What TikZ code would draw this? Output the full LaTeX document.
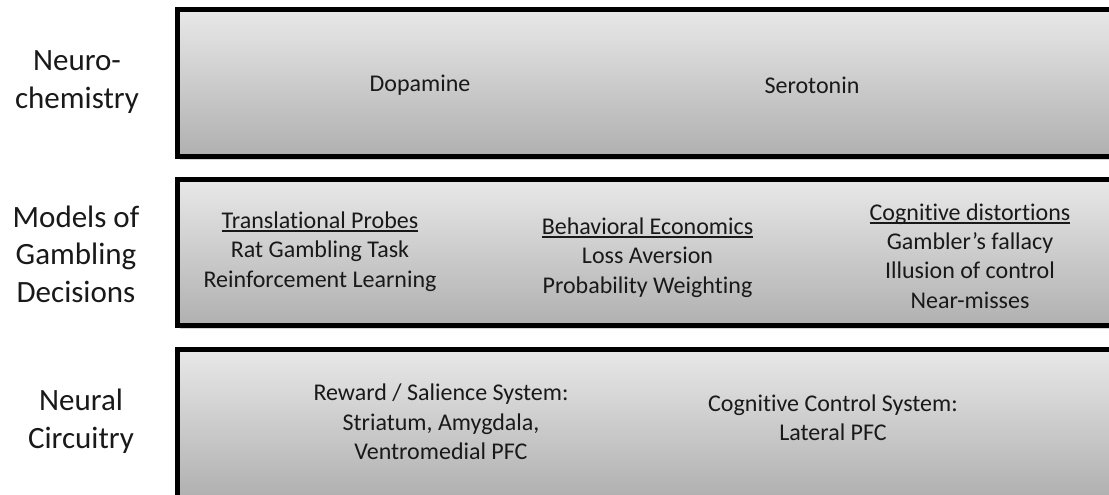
\documentclass[tikz,border=0pt]{standalone}
\usepackage{fontspec}
\setmainfont{Carlito}[Ligatures=NoCommon]
\usetikzlibrary{shadows}
\newcommand{\headline}[1]{\setbox0\hbox{#1}\rlap{\rule[-3.6pt]{\wd0}{1.7pt}}\box0}
\tikzset{
  layerbox/.style={draw=black, line width=5pt, top color=black!9, bottom color=black!31,
    drop shadow={shadow xshift=2pt, shadow yshift=-3.5pt, opacity=0.35},
    minimum width=952.5pt, inner sep=0pt, outer sep=0pt},
  layerlabel/.style={align=center, text=black!90, font=\fontsize{31}{37.5}\selectfont},
  layertext/.style={align=center, text=black!90, font=\fontsize{24}{29.3}\selectfont},
}
\begin{document}
\begin{tikzpicture}[x=1pt, y=-1pt]
    \useasboundingbox (0,0) rectangle (1109,495);
    \clip (0,0) rectangle (1109,495);

    % layers
    \node[layerbox, minimum height=146.5pt] (chem) at (653.75,82.75) {};
    \node[layerbox, minimum height=146pt] (models) at (653.75,252.5) {};
    \node[layerbox, minimum height=148.5pt] (circuit) at (653.75,423.75) {};

    % left labels
    \node[layerlabel] (chemlabel) at (77,82) {Neuro-\\chemistry};
    \node[layerlabel] (modelslabel) at (76,254) {Models of\\Gambling\\Decisions};
    \node[layerlabel] (circuitlabel) at (81,421) {Neural\\Circuitry};

    % neurochemistry
    \node[layertext] (dopamine) at (420,85) {Dopamine};
    \node[layertext] (serotonin) at (812,85) {Serotonin};

    % models
    \node[layertext] (probes) at (320,251.5) {\headline{Translational Probes}\\Rat Gambling Task\\Reinforcement Learning};
    \node[layertext] (economics) at (647.5,257.5) {\headline{Behavioral Economics}\\Loss Aversion\\Probability Weighting};
    \node[layertext] (distortions) at (970,256) {\headline{Cognitive distortions}\\Gambler’s fallacy\\Illusion of control\\Near-misses};

    % circuitry
    \node[layertext] (reward) at (441,422) {Reward / Salience System:\\Striatum, Amygdala,\\Ventromedial PFC};
    \node[layertext] (control) at (833,418) {Cognitive Control System:\\Lateral PFC};
\end{tikzpicture}
\end{document}
